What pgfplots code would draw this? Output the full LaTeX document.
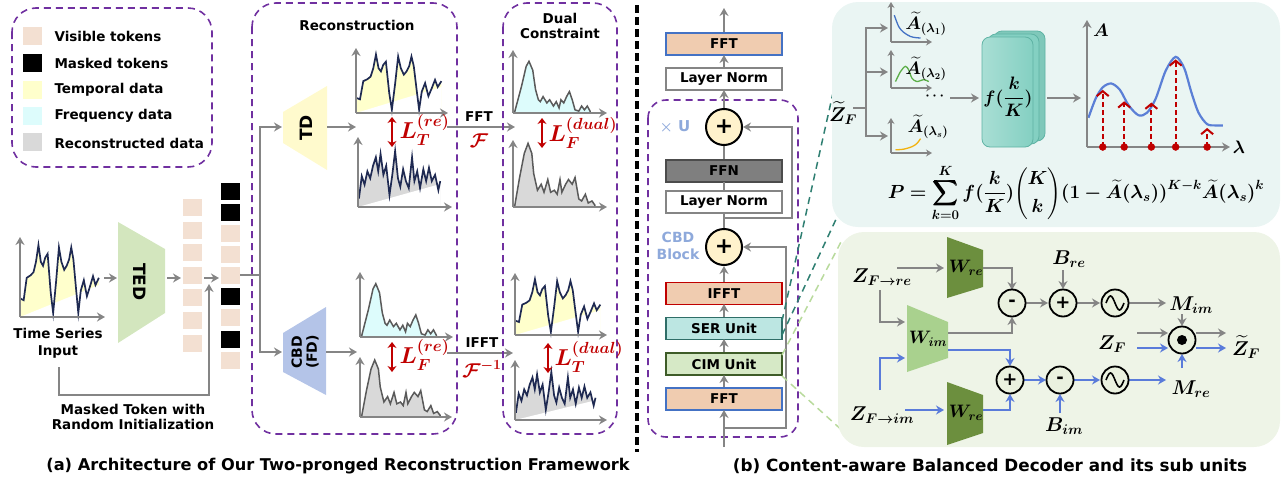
\RequirePackage{fix-cm}
\documentclass[border=0pt]{standalone}
\usepackage{pgfplots}
\pgfplotsset{compat=1.18}
\usepackage{pgfplotstable}
\usepackage{amsmath}
\usepackage{bm}
\usepackage{fontspec}
\setmainfont{DejaVu Sans}
\usetikzlibrary{arrows.meta}

\definecolor{dashpurple}{HTML}{7030A0}
\definecolor{axgray}{HTML}{858585}
\definecolor{navy}{HTML}{1F2A52}
\definecolor{lossred}{HTML}{C00000}
\definecolor{tokpeach}{HTML}{F3E0D2}
\definecolor{boxpeach}{HTML}{F0CCB0}
\definecolor{tmpyellow}{HTML}{FFFFCC}
\definecolor{frqcyan}{HTML}{DDFCFC}
\definecolor{recgray}{HTML}{D9D9D9}
\definecolor{tedgreen}{HTML}{D3E6BE}
\definecolor{tdyellow}{HTML}{FFFACD}
\definecolor{cbdblue}{HTML}{B4C4E8}
\definecolor{specline}{HTML}{5A5A5A}
\definecolor{borderblue}{HTML}{4472C4}
\definecolor{circyellow}{HTML}{FFF2CC}
\definecolor{ffngray}{HTML}{7F7F7F}
\definecolor{serfill}{HTML}{BCE6E2}
\definecolor{serborder}{HTML}{2F6E68}
\definecolor{cimfill}{HTML}{D6E9C6}
\definecolor{cimborder}{HTML}{3E5C28}
\definecolor{softblue}{HTML}{8EA9DB}
\definecolor{toppanel}{HTML}{EAF5F3}
\definecolor{botpanel}{HTML}{EEF4E7}
\definecolor{fboxfill}{HTML}{84D0C2}
\definecolor{fboxedge}{HTML}{5FB3A4}
\definecolor{wdark}{HTML}{6C8F3E}
\definecolor{wlight}{HTML}{A9D18E}
\definecolor{flowblue}{HTML}{5A7BDA}
\definecolor{curveblue}{HTML}{5B7FD6}
\definecolor{lamgreen}{HTML}{5BAE47}
\definecolor{lamorange}{HTML}{F2B20F}
\definecolor{tealdash}{HTML}{2F7F72}
\definecolor{greendash}{HTML}{B8DA9C}
\definecolor{opfill}{HTML}{EAF1DF}

% temporal signal (input / reconstruction target)
\pgfplotstableread{
x y
0.007 0.23
0.043 0.21
0.079 0.49
0.123 0.52
0.159 0.56
0.188 0.69
0.217 0.90
0.245 0.69
0.271 0.64
0.296 0.74
0.325 0.79
0.361 0.31
0.390 0.05
0.426 0.46
0.458 0.87
0.487 0.69
0.520 0.59
0.549 0.64
0.578 0.72
0.603 0.87
0.628 0.72
0.657 0.38
0.686 0.05
0.715 0.33
0.751 0.46
0.787 0.26
0.823 0.38
0.859 0.51
0.888 0.40
0.928 0.49
}\wavea

% reconstructed temporal signal
\pgfplotstableread{
x y
0.010 0.12
0.040 0.44
0.070 0.32
0.100 0.51
0.130 0.41
0.160 0.59
0.190 0.71
0.215 0.51
0.240 0.76
0.270 0.46
0.300 0.59
0.335 0.17
0.365 0.46
0.395 0.80
0.425 0.41
0.450 0.29
0.480 0.54
0.510 0.37
0.540 0.27
0.575 0.71
0.600 0.37
0.630 0.51
0.660 0.27
0.695 0.54
0.725 0.37
0.755 0.56
0.785 0.37
0.820 0.46
0.855 0.24
0.875 0.37
}\waveb

% amplitude spectrum
\pgfplotstableread{
x y
0.02 0.03
0.09 0.42
0.14 0.74
0.17 0.82
0.21 0.68
0.24 0.37
0.27 0.21
0.29 0.18
0.32 0.26
0.36 0.16
0.39 0.21
0.43 0.11
0.46 0.18
0.49 0.08
0.51 0.21
0.54 0.16
0.57 0.26
0.60 0.34
0.63 0.21
0.66 0.05
0.70 0.03
0.73 0.11
0.76 0.05
0.79 0.11
0.82 0.03
}\speca

% reconstructed spectrum
\pgfplotstableread{
x y
0.02 0.03
0.07 0.44
0.12 0.80
0.16 0.95
0.20 0.80
0.22 0.50
0.26 0.25
0.30 0.34
0.33 0.22
0.37 0.41
0.40 0.22
0.44 0.25
0.47 0.19
0.50 0.41
0.52 0.22
0.56 0.34
0.59 0.41
0.63 0.34
0.66 0.44
0.70 0.12
0.73 0.09
0.77 0.19
0.80 0.06
0.84 0.09
0.87 0.03
}\specb

\tikzset{
  garrow/.style={draw=axgray, line width=2pt, -{Stealth[length=8pt,width=9pt]}},
  gline/.style={draw=axgray, line width=2pt},
  barrow/.style={draw=flowblue, line width=2pt, -{Stealth[length=8pt,width=9pt]}},
  lab/.style={font=\bfseries\fontsize{13.5}{15}\selectfont},
  grpbox/.style={draw=dashpurple, line width=1.6pt, dash pattern=on 7pt off 5pt, rounded corners=24pt},
  blk/.style={draw, line width=1.5pt, minimum width=116pt, minimum height=22pt, inner sep=0pt, font=\bfseries\fontsize{13.5}{15}\selectfont},
  plusc/.style={circle, draw=black, line width=2pt, fill=circyellow, minimum size=36pt, inner sep=0pt, font=\bfseries\fontsize{22}{22}\selectfont},
  opc/.style={circle, draw=black, line width=1.8pt, fill=opfill, minimum size=27pt, inner sep=0pt, font=\bfseries\fontsize{18}{18}\selectfont},
  mth/.style={font=\fontsize{20}{22}\selectfont},
  lossarr/.style={draw=lossred, line width=2.4pt, {Stealth[length=6pt,width=9pt]}-{Stealth[length=6pt,width=9pt]}},
}

% small axes are placed by their lower-left corner; the picture runs downwards
\pgfplotsset{
  mini/.style={scale only axis, anchor=south west, axis lines=left,
    xtick=\empty, ytick=\empty, xmin=0, xmax=1, ymin=0, ymax=1, clip=false, axis on top,
    axis line style={draw=axgray, line width=1.8pt, -{Stealth[length=8pt,width=9pt]}}},
  tiny/.style={mini,
    axis line style={draw=axgray, line width=1.3pt, -{Stealth[length=6pt,width=7pt]}}},
  pos/.style 2 args={at={(#1pt,-#2pt)}},
  tempfill/.style={draw=none, fill=tmpyellow},
  recfill/.style={draw=none, fill=recgray},
  sig/.style={navy, line width=1.7pt},
  peakarrow/.style={draw=lossred, line width=2pt, dash pattern=on 5pt off 3pt, -{Straight Barb[length=5pt,width=12pt]}},
}

\begin{document}
\begin{tikzpicture}[x=1pt, y=-1pt]
\useasboundingbox (0,0) rectangle (1283,485);

% ---------------- legend ----------------
\draw[grpbox] (12,8) rectangle (212,167);
\fill[tokpeach] (23,27) rectangle (42,45);
\fill[black] (23,54) rectangle (42,72);
\fill[tmpyellow] (23,81) rectangle (42,99);
\fill[frqcyan] (23,107) rectangle (42,125);
\fill[recgray] (23,133) rectangle (42,151);
\node[lab, anchor=west] at (51,36) {Visible tokens};
\node[lab, anchor=west] at (51,63) {Masked tokens};
\node[lab, anchor=west] at (51,90) {Temporal data};
\node[lab, anchor=west] at (51,116) {Frequency data};
\node[lab, anchor=west] at (51,143) {Reconstructed data};

% ---------------- input series ----------------
\begin{axis}[mini, pos={20}{317}, width=85pt, height=80pt]
\addplot[tempfill] table {\wavea} \closedcycle;
\addplot[draw=none, fill=white] coordinates {(0,0) (0.93,0.40) (0.93,0)} \closedcycle;
\addplot[sig] table {\wavea};
\end{axis}
\node[lab] at (58,333) {Time Series};
\node[lab] at (58,352) {Input};

% encoder
\fill[tedgreen] (118,222) -- (165,249) -- (165,313) -- (118,343) -- cycle;
\node[rotate=-90, font=\bfseries\fontsize{17}{17}\selectfont] at (140,282) {TED};
\draw[garrow] (104,278) -- (117,278);
\draw[garrow] (167,278) -- (181,278);

% token columns
\foreach \yy in {199,222,244,267,289,312,335}
  \fill[tokpeach] (183,\yy) rectangle ++(19,17);
\draw[garrow] (204,278) -- (219,278);
\foreach \yy/\cc in {183/black,204/black,225/tokpeach,246/tokpeach,267/tokpeach,288/black,309/tokpeach,331/black,352/tokpeach}
  \fill[\cc] (221,\yy) rectangle ++(19,17);

% masked token path
\draw[garrow] (59,367) -- (59,395) -- (209,395) -- (209,284);
\node[lab, align=center] at (133,417) {Masked Token with\\Random Initialization};

% split to the two decoders
\draw[gline] (240,275) -- (260,275);
\draw[gline] (260,127) -- (260,352);
\draw[garrow] (259,127) -- (282,127);
\draw[garrow] (259,352) -- (282,352);

% ---------------- reconstruction group ----------------
\draw[grpbox] (252,3) rectangle (457,434);
\node[lab] at (357,25) {Reconstruction};

\fill[tdyellow] (283,112) -- (327,86) -- (327,170) -- (283,143) -- cycle;
\node[rotate=90, font=\bfseries\fontsize{17}{17}\selectfont] at (306,128) {TD};
\draw[garrow] (327,127) -- (356,127);

\fill[cbdblue] (283,333) -- (326,307) -- (326,395) -- (283,372) -- cycle;
\node[rotate=90, align=center, font=\bfseries\fontsize{14}{15}\selectfont] at (305,352) {CBD\\(FD)};
\draw[garrow] (326,352) -- (357,352);

% temporal branch outputs
\begin{axis}[mini, pos={356}{113}, width=92pt, height=65pt]
\addplot[tempfill] table {\wavea} \closedcycle;
\addplot[draw=none, fill=white] coordinates {(0,0) (0.93,0.40) (0.93,0)} \closedcycle;
\addplot[sig] table {\wavea};
\end{axis}
\begin{axis}[mini, pos={358}{207}, width=94pt, height=70pt]
\addplot[recfill] table {\waveb} \closedcycle;
\addplot[draw=none, fill=white] coordinates {(0,0) (0.88,0.33) (0.88,0)} \closedcycle;
\addplot[sig] table {\waveb};
\end{axis}
\draw[lossarr] (392,117) -- (392,147);
\node[anchor=west, text=lossred, font=\fontsize{23}{24}\selectfont] at (396,130) {$\bm{L_T^{(re)}}$};

% frequency branch outputs
\begin{axis}[mini, pos={360}{337}, width=93pt, height=65pt]
\addplot[specline, line width=1.5pt, fill=frqcyan] table {\speca} \closedcycle;
\end{axis}
\begin{axis}[mini, pos={360}{417}, width=92pt, height=60pt]
\addplot[specline, line width=1.5pt, fill=recgray] table {\specb} \closedcycle;
\end{axis}
\draw[lossarr] (392,342) -- (392,372);
\node[anchor=west, text=lossred, font=\fontsize{23}{24}\selectfont] at (396,355) {$\bm{L_F^{(re)}}$};

% transforms between groups
\draw[garrow] (447,127) -- (515,127);
\node[lab] at (479,117) {FFT};
\node[text=lossred, font=\fontsize{20}{20}\selectfont] at (479,141) {$\bm{\mathcal{F}}$};
\draw[garrow] (447,353) -- (513,353);
\node[lab] at (482,343) {IFFT};
\node[text=lossred, font=\fontsize{20}{20}\selectfont] at (482,369) {$\bm{\mathcal{F}^{-1}}$};

% ---------------- dual constraint group ----------------
\draw[grpbox] (503,3) rectangle (617,434);
\node[lab, align=center] at (560,26) {Dual\\Constraint};

\begin{axis}[mini, pos={513}{113}, width=94pt, height=63pt]
\addplot[specline, line width=1.5pt, fill=frqcyan] table {\speca} \closedcycle;
\end{axis}
\begin{axis}[mini, pos={513}{207}, width=94pt, height=67pt]
\addplot[specline, line width=1.5pt, fill=recgray] table {\specb} \closedcycle;
\end{axis}
\draw[lossarr] (542,118) -- (542,148);
\node[anchor=west, text=lossred, font=\fontsize{23}{24}\selectfont] at (545,133) {$\bm{L_F^{(dual)}}$};

\begin{axis}[mini, pos={515}{335}, width=92pt, height=62pt]
\addplot[tempfill] table {\wavea} \closedcycle;
\addplot[draw=none, fill=white] coordinates {(0,0) (0.93,0.40) (0.93,0)} \closedcycle;
\addplot[sig] table {\wavea};
\end{axis}
\begin{axis}[mini, pos={515}{420}, width=92pt, height=60pt]
\addplot[recfill] table {\waveb} \closedcycle;
\addplot[draw=none, fill=white] coordinates {(0,0) (0.88,0.33) (0.88,0)} \closedcycle;
\addplot[sig] table {\waveb};
\end{axis}
\draw[lossarr] (548,343) -- (548,373);
\node[anchor=west, text=lossred, font=\fontsize{23}{24}\selectfont] at (551,357) {$\bm{L_T^{(dual)}}$};

% separator
\draw[line width=3.2pt, dash pattern=on 8pt off 4pt] (637,5) -- (637,452);

% ---------------- CBD column ----------------
\draw[grpbox, rounded corners=18pt] (648,100) rectangle (798,437);
\node[text=softblue, font=\bfseries\fontsize{15}{15}\selectfont] at (675,127) {$\bm{\times}$ U};
\node[text=softblue, align=center, font=\bfseries\fontsize{14}{17}\selectfont] at (678,246) {CBD\\Block};

\draw[garrow] (724,33) -- (724,8);
\node[blk, draw=borderblue, fill=boxpeach] at (724,44) {FFT};
\draw[garrow] (724,69) -- (724,55);
\node[blk, draw=axgray, fill=white] at (724,79) {Layer Norm};
\draw[garrow] (724,109) -- (724,90);
\draw[gline] (724,145) -- (724,160);
\node[blk, draw=black!70, fill=ffngray] at (724,171) {FFN};
\draw[gline] (724,182) -- (724,191);
\node[blk, draw=axgray, fill=white] at (724,202) {Layer Norm};
\draw[gline] (724,213) -- (724,229);
\draw[garrow] (724,218) -- (792,218) -- (792,127) -- (743,127);
\node[plusc] at (724,127) {+};
\node[plusc] at (724,247) {+};
\draw[garrow] (724,283) -- (724,266);
\node[blk, draw=lossred, fill=boxpeach] at (724,293.5) {IFFT};
\draw[garrow] (724,318) -- (724,304);
\node[blk, draw=serborder, fill=serfill] at (724,328.5) {SER Unit};
\draw[garrow] (724,353) -- (724,339);
\node[blk, draw=cimborder, fill=cimfill] at (724,364) {CIM Unit};
\draw[garrow] (724,388) -- (724,375);
\node[blk, draw=borderblue, fill=boxpeach] at (724,399) {FFT};
\draw[garrow] (724,447) -- (724,410);
\draw[garrow] (724,428) -- (786,428) -- (786,247) -- (743,247);

% zoom guides
\draw[tealdash, line width=1.5pt, dash pattern=on 7pt off 5pt] (782,321) -- (848,26);
\draw[tealdash, line width=1.5pt, dash pattern=on 7pt off 5pt] (782,335) -- (838,215);
\draw[greendash, line width=1.5pt, dash pattern=on 7pt off 5pt] (782,355) -- (842,240);
\draw[greendash, line width=1.5pt, dash pattern=on 7pt off 5pt] (782,376) -- (845,433);

% ---------------- SER unit ----------------
\fill[toppanel, rounded corners=26pt] (832,2) rectangle (1280,227);
\node[mth] at (843,113) {$\bm{\widetilde{Z}_F}$};
\draw[gline] (853,108) -- (866,108);
\draw[gline] (866,27) -- (866,137);
\draw[garrow] (865,28) -- (888,28);
\draw[garrow] (865,72) -- (888,72);
\draw[garrow] (865,136) -- (888,136);

\begin{axis}[tiny, pos={891}{42}, width=41pt, height=40pt]
\addplot[borderblue, line width=1.3pt, smooth] coordinates {(0.08,0.67) (0.19,0.38) (0.31,0.24) (0.47,0.14) (0.60,0.11) (0.72,0.10)};
\end{axis}
\begin{axis}[tiny, pos={891}{88}, width=41pt, height=38pt]
\addplot[lamgreen, line width=1.3pt, smooth] coordinates {(0.11,0.17) (0.23,0.43) (0.35,0.57) (0.43,0.48) (0.51,0.26) (0.63,0.17) (0.80,0.22) (0.92,0.17)};
\end{axis}
\begin{axis}[tiny, pos={891}{153}, width=41pt, height=35pt]
\addplot[lamorange, line width=1.3pt, smooth] coordinates {(0.11,0.09) (0.31,0.11) (0.51,0.18) (0.63,0.27) (0.72,0.41)};
\end{axis}
\node[font=\fontsize{18}{18}\selectfont] at (926,24) {$\bm{\widetilde{A}_{(\lambda_1)}}$};
\node[font=\fontsize{18}{18}\selectfont] at (926,69) {$\bm{\widetilde{A}_{(\lambda_2)}}$};
\node[font=\fontsize{18}{18}\selectfont] at (928,127) {$\bm{\widetilde{A}_{(\lambda_s)}}$};
\node[font=\bfseries\fontsize{14}{14}\selectfont] at (936,96) {$\bm{\cdots}$};
\draw[garrow] (950,98) -- (979,98);

\fill[fboxfill!80!black!20!fboxfill, rounded corners=8pt] (994,31) rectangle (1045,141);
\draw[fboxedge, line width=0.8pt, rounded corners=8pt] (994,31) rectangle (1045,141);
\fill[fboxfill, rounded corners=8pt] (988,34) rectangle (1039,144);
\draw[fboxedge, line width=0.8pt, rounded corners=8pt] (988,34) rectangle (1039,144);
\shade[left color=fboxfill!70!white, right color=fboxfill, rounded corners=8pt] (982,37) rectangle (1033,147);
\draw[fboxedge, line width=0.8pt, rounded corners=8pt] (982,37) rectangle (1033,147);
\node[font=\fontsize{18}{18}\selectfont, inner sep=0pt] at (1008,97) {$\bm{f(\dfrac{k}{K})}$};
\draw[garrow] (1047,98) -- (1081,98);

\begin{axis}[mini, pos={1087}{147}, width=143pt, height=127pt,
  axis line style={draw=axgray, line width=1.6pt, -{Stealth[length=8pt,width=9pt]}}]
\addplot[curveblue, line width=2.2pt, smooth] coordinates {(0.01,0.23) (0.06,0.38) (0.11,0.47) (0.17,0.50) (0.23,0.45) (0.29,0.33) (0.36,0.25) (0.42,0.27) (0.48,0.38) (0.55,0.60) (0.62,0.71) (0.68,0.62) (0.73,0.43) (0.78,0.27) (0.84,0.18) (0.90,0.17) (0.95,0.17)};
\addplot[peakarrow] coordinates {(0.11,0) (0.11,0.45)};
\addplot[peakarrow] coordinates {(0.26,0) (0.26,0.36)};
\addplot[peakarrow] coordinates {(0.45,0) (0.45,0.35)};
\addplot[peakarrow] coordinates {(0.62,0) (0.62,0.69)};
\addplot[peakarrow] coordinates {(0.84,0) (0.84,0.15)};
\addplot[only marks, mark=*, mark size=3.5pt, lossred] coordinates {(0.11,0) (0.26,0) (0.45,0) (0.62,0) (0.84,0)};
\end{axis}
\node[font=\fontsize{18}{18}\selectfont] at (1101,30) {$\bm{A}$};
\node[font=\fontsize{18}{18}\selectfont] at (1239,147) {$\bm{\lambda}$};

\node[font=\fontsize{19}{20}\selectfont] at (1076,193) {$\displaystyle\bm{P=\sum_{k=0}^{K} f(\frac{k}{K})\binom{K}{k}(1-\widetilde{A}(\lambda_s))^{K-k}\widetilde{A}(\lambda_s)^k}$};

% ---------------- CIM unit ----------------
\fill[botpanel, rounded corners=26pt] (838,232) rectangle (1280,447);

\fill[wdark] (947,237) -- (983,250) -- (983,287) -- (947,298) -- cycle;
\fill[wlight] (907,305) -- (948,322) -- (948,358) -- (907,372) -- cycle;
\fill[wdark] (947,382) -- (983,395) -- (983,433) -- (947,445) -- cycle;
\node[font=\fontsize{18}{18}\selectfont] at (966,268) {$\bm{W_{re}}$};
\node[font=\fontsize{18}{18}\selectfont] at (928,339) {$\bm{W_{im}}$};
\node[font=\fontsize{18}{18}\selectfont] at (966,413) {$\bm{W_{re}}$};

\node[mth] at (882,277) {$\bm{Z_{F\rightarrow re}}$};
\node[mth] at (882,415) {$\bm{Z_{F\rightarrow im}}$};

% real part path
\draw[garrow] (897,268) -- (944,268);
\draw[garrow] (983,268) -- (1012,268) -- (1012,290);
\draw[garrow] (880,290) -- (880,322) -- (905,322);
\draw[garrow] (948,333) -- (1012,333) -- (1012,317);
\draw[garrow] (1026,303) -- (1048,303);
\draw[garrow] (1063,270) -- (1063,289);
\draw[garrow] (1077,303) -- (1100,303);
\draw[garrow] (1129,303) -- (1166,303);
\draw[garrow] (1182,314) -- (1182,326);
\draw[garrow] (1137,333) -- (1168,333);
\draw[garrow] (1196,333) -- (1226,333);

% imaginary part path
\draw[barrow] (880,390) -- (880,358) -- (905,358);
\draw[barrow] (948,350) -- (1010,350) -- (1010,366);
\draw[barrow] (905,410) -- (944,410);
\draw[barrow] (983,410) -- (1010,410) -- (1010,394);
\draw[barrow] (1024,380) -- (1046,380);
\draw[barrow] (1060,413) -- (1060,394);
\draw[barrow] (1074,380) -- (1100,380);
\draw[barrow] (1129,380) -- (1166,380);
\draw[barrow] (1182,368) -- (1182,354);
\draw[barrow] (1137,348) -- (1168,348);
\draw[barrow] (1196,348) -- (1226,348);

\node[opc] at (1012,303) {-};
\node[opc] at (1063,303) {+};
\node[opc] at (1115,303) {};
\node[opc] at (1010,380) {+};
\node[opc] at (1060,380) {-};
\node[opc] at (1115,380) {};
\node[opc] at (1182,340) {};
\fill[black] (1182,340) circle (5pt);
\draw[line width=1.6pt] (1106,303) sin (1110.5,296) cos (1115,303) sin (1119.5,310) cos (1124,303);
\draw[line width=1.6pt] (1106,380) sin (1110.5,373) cos (1115,380) sin (1119.5,387) cos (1124,380);

\node[mth] at (1069,259) {$\bm{B_{re}}$};
\node[mth] at (1064,426) {$\bm{B_{im}}$};
\node[mth] at (1191,305) {$\bm{M_{im}}$};
\node[mth] at (1191,389) {$\bm{M_{re}}$};
\node[mth] at (1112,344) {$\bm{Z_F}$};
\node[mth] at (1246,347) {$\bm{\widetilde{Z}_F}$};

% ---------------- captions ----------------
\node[font=\bfseries\fontsize{16.2}{18}\selectfont] at (338,466) {(a) Architecture of Our Two-pronged Reconstruction Framework};
\node[font=\bfseries\fontsize{16.8}{18}\selectfont] at (990,466) {(b) Content-aware Balanced Decoder and its sub units};
\end{tikzpicture}
\end{document}
